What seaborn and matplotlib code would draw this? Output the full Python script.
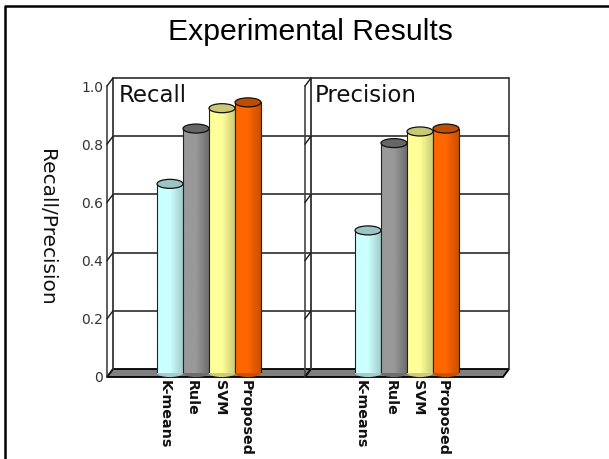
import numpy as np
import pandas as pd
import matplotlib
matplotlib.use('Agg')
import matplotlib.pyplot as plt
import seaborn as sns
from matplotlib.colors import LinearSegmentedColormap
from matplotlib.lines import Line2D
from matplotlib.patches import Ellipse, Polygon, Rectangle
from matplotlib.transforms import ScaledTranslation

methods = ['K-means', 'Rule', 'SVM', 'Proposed']
recall = [0.65, 0.84, 0.91, 0.93]
precision = [0.49, 0.79, 0.83, 0.84]
y_ticks = [0, 0.2, 0.4, 0.6, 0.8, 1.0]
y_tick_labels = ['0', '0.2', '0.4', '0.6', '0.8', '1.0']

W, H = 609, 459
DEPTH = 3  # half of the fake 3d depth, pixels
face = ['#CCFFFF', '#999999', '#FFFF99', '#FF6600']
shade = ['#A3CCCC', '#6E6E6E', '#CCCC7A', '#C85000']
lid = ['#9CC4C4', '#666666', '#C8C878', '#BF4F00']


def px_shift(fig, dx, dy):
    return ScaledTranslation(dx / fig.dpi, -dy / fig.dpi, fig.dpi_scale_trans)


def draw_panel(fig, ax, values, name, name_dx, label_dx):
    df = pd.DataFrame({'Method': methods, 'Value': values})
    sns.barplot(data=df, x='Method', y='Value', hue='Method', palette=face, width=1.0,
                legend=False, ax=ax, saturation=1, edgecolor='none', zorder=3)
    ax.set_xlim(-2.31, 5.31)
    ax.set_ylim(0, 1)
    ax.set_xlabel('')
    ax.set_ylabel('')
    ax.patch.set_visible(False)
    for s in ax.spines.values():
        s.set_visible(False)

    back = ax.transData + px_shift(fig, DEPTH, -DEPTH - 1)
    front = ax.transData + px_shift(fig, -DEPTH, DEPTH + 1)
    x0, x1 = ax.get_xlim()

    # floor and walls
    floor_pts = [front.transform((x0, 0)), front.transform((x1, 0)),
                 back.transform((x1, 0)), back.transform((x0, 0))]
    ax.add_patch(Polygon(floor_pts, closed=True, transform=None, fc='#808080', ec='black',
                         lw=1.3, zorder=1, clip_on=False))
    for t in y_ticks[1:]:
        ax.add_line(Line2D([x0, x1], [t, t], color='#1a1a1a', lw=1.1, transform=back, zorder=2, clip_on=False))
    ax.add_line(Line2D([x0, x0], [0, 1], color='#444444', lw=1.4, transform=back, zorder=2, clip_on=False))
    ax.add_line(Line2D([x1, x1], [0, 1], color='#333333', lw=1.2, transform=back, zorder=2, clip_on=False))
    ax.add_line(Line2D([x0, x0], [0, 1], color='#444444', lw=1.2, transform=front, zorder=2, clip_on=False))
    # slanted ticks from the front edge to the back wall
    for t in y_ticks:
        a = front.transform((x0, t))
        b = back.transform((x0, t))
        ax.add_line(Line2D([a[0], b[0]], [a[1], b[1]], color='#1a1a1a', lw=1, transform=None, zorder=2, clip_on=False))

    # shade the bars like cylinders
    for i, bar in enumerate(list(ax.patches)):
        if not isinstance(bar, Rectangle) or bar.get_height() == 0 or i >= 4:
            continue
        bx, bw, bh = bar.get_x(), bar.get_width(), bar.get_height()
        cmap = LinearSegmentedColormap.from_list('c', [face[i], face[i], shade[i]])
        ax.imshow(np.linspace(0, 1, 64).reshape(1, -1), extent=(bx, bx + bw, 0, bh), cmap=cmap,
                  aspect='auto', zorder=3.1 + i * 0.1)
        ax.add_line(Line2D([bx, bx], [0, bh], color='#222222', lw=0.8, zorder=3.15 + i * 0.1))
        ax.add_line(Line2D([bx + bw, bx + bw], [0, bh], color='#222222', lw=0.8, zorder=3.15 + i * 0.1))
        ax.add_patch(Ellipse((bx + bw / 2, 0), bw, 0.028, fc=shade[i], ec='none', zorder=3.05 + i * 0.1, clip_on=False))
        ax.add_patch(Ellipse((bx + bw / 2, bh), bw, 0.031, fc=lid[i], ec='#111111', lw=0.9,
                             zorder=3.18 + i * 0.1))
    ax.set_xlim(x0, x1)
    ax.set_ylim(0, 1)

    ax.set_xticks(range(4))
    ax.set_xticklabels(methods, rotation=270, fontsize=10.3, fontweight='bold', ha='center', va='top',
                       family='DejaVu Sans')
    ax.tick_params(axis='x', length=0, pad=5, labelcolor='#111111')
    for lab, dx in zip(ax.get_xticklabels(), label_dx):
        lab.set_transform(lab.get_transform() + px_shift(fig, dx, 0))
    ax.text(0.02, 0.955, name, transform=ax.transAxes + px_shift(fig, name_dx, 0), fontsize=16.5, va='center',
            ha='left', family='DejaVu Sans', color='#111111', zorder=6)


def main():
    sns.set_theme(style='white')
    fig = plt.figure(figsize=(W / 100, H / 100), dpi=100)
    fig.patch.set_facecolor('white')

    axes = []
    for left in [110, 308]:
        ax = fig.add_axes([left / W, (H - 373) / H, 198 / W, 291 / H])
        axes.append(ax)

    draw_panel(fig, axes[0], recall, 'Recall', 5, [-5, -4, -2, -2])
    draw_panel(fig, axes[1], precision, 'Precision', 3, [-7, -3.5, -2, -3.5])

    axes[0].set_yticks(y_ticks)
    axes[0].set_yticklabels(y_tick_labels, fontsize=10, family='DejaVu Sans', color='#333333')
    axes[0].tick_params(axis='y', length=0, pad=5)
    for lab in axes[0].get_yticklabels():
        lab.set_transform(lab.get_transform() + px_shift(fig, 0, 4))
    axes[1].set_yticks([])

    fig.text(310 / W, 1 - 32 / H, 'Experimental Results', fontsize=21.7, ha='center', va='center',
             family='Liberation Sans', color='black')
    fig.text(46 / W, 1 - 227 / H, 'Recall/Precision', fontsize=14.5, rotation=270, ha='center', va='center',
             family='DejaVu Sans', color='#111111')
    # slide frame, open on the right
    fig.add_artist(Line2D([4.5 / W, 4.5 / W, 1], [0, 1 - 5.5 / H, 1 - 5.5 / H], color='black', lw=1.8))

    fig.savefig('out.png', dpi=100)
    plt.close(fig)


if __name__ == '__main__':
    main()
